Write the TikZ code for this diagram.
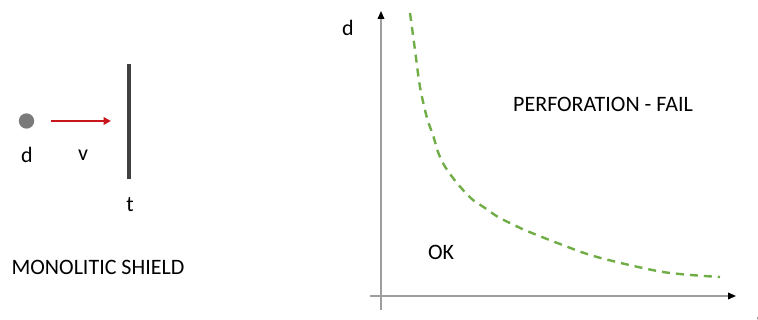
\documentclass[tikz,border=0pt]{standalone}
\usepackage{fontspec}
\setmainfont{Carlito}
\usetikzlibrary{arrows.meta}
\definecolor{shieldred}{HTML}{C8161D}
\definecolor{shieldgreen}{HTML}{70AD47}
\tikzset{shield label/.style={inner sep=0pt, font=\fontsize{16.5}{19}\selectfont, text=black}}
\tikzset{shield edge/.style={-{Triangle[length=5.5pt,width=5.5pt]}, line width=1.5pt, draw=shieldred}}
\tikzset{shield axis/.style={-{Triangle[length=6pt,width=5pt,color=black]}, line width=1.1pt, draw=black!38}}
\tikzset{shield curve/.style={draw=shieldgreen, line width=1.8pt, dash pattern=on 6pt off 4.5pt}}

\begin{document}
\begin{tikzpicture}[x=0.75pt,y=-0.75pt]
		\useasboundingbox (0,0) rectangle (758,320);

		% projectile and plate
		\node[circle, fill=black!52, inner sep=0pt, minimum size=11.5pt] (ball) at (26.5,121) {};
		\coordinate (tail) at (51,121);
		\coordinate (hit) at (111,121);
		\draw[shield edge] (tail) -- (hit);
		\coordinate (top) at (129,64);
		\coordinate (bottom) at (129,179);
		\draw[line width=3pt, draw=black!75] (top) -- (bottom);

		\node[shield label] (dia) at (27,155) {d};
		\node[shield label] (vel) at (83,155) {v};
		\node[shield label] (thick) at (130,205) {t};
		\node[shield label] (name) at (98,267) {MONOLITIC SHIELD};

		% ballistic limit chart
		\coordinate (ybot) at (381,310);
		\coordinate (ytop) at (381,11);
		\coordinate (xleft) at (370,296);
		\coordinate (xright) at (736,296);
		\draw[shield axis] (ybot) -- (ytop);
		\draw[shield axis] (xleft) -- (xright);

		\draw[shield curve] plot[smooth] coordinates
		{(410,13) (415,50) (420,87) (427,118) (433,135) (438,152) (444,165) (453,178) (463,190) (473,200) (485,208) (498,217) (512,224) (527,231) (560,244) (597,257) (663,272) (720,277)};

		\node[shield label] (dlab) at (348,28) {d};
		\node[shield label] (vlab) at (762,323) {v};
		\node[shield label] (fail) at (603,104) {PERFORATION - FAIL};
		\node[shield label] (ok) at (441,252) {OK};
	\end{tikzpicture}
\end{document}
